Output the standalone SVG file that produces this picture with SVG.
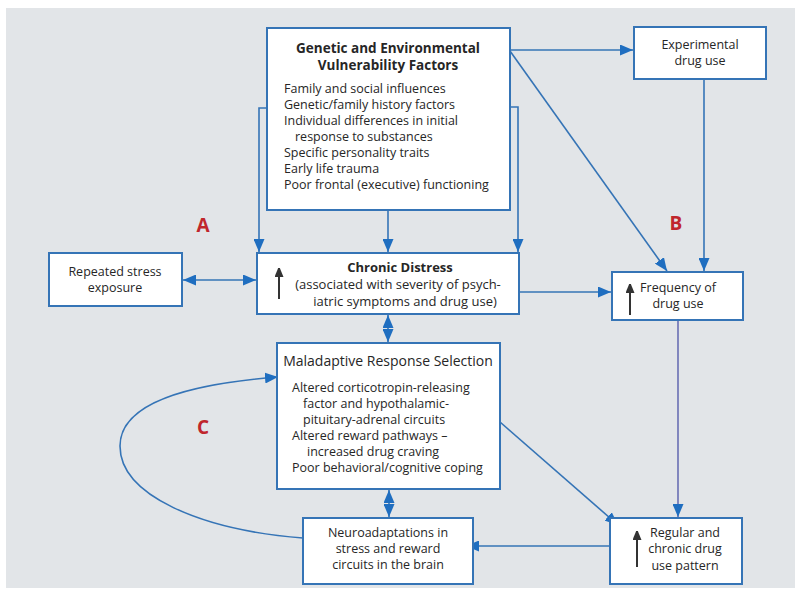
<svg xmlns="http://www.w3.org/2000/svg" width="795" height="596" viewBox="0 0 795 596">
  <style>
    .box { fill: #ffffff; stroke: #3574b6; stroke-width: 2; }
    .t { font-family: "Open Sans", "Liberation Sans", sans-serif; font-size: 12.5px; fill: #262626; }
    .big { font-size: 13.5px; }
    .mid { font-size: 13px; }
    .c { text-anchor: middle; }
    .b { font-weight: bold; }
    .lbl { font-family: "Open Sans", "Liberation Sans", sans-serif; font-size: 19px; font-weight: bold; fill: #c0262c; text-anchor: middle; }
    .edge { fill: none; stroke: #3574b6; stroke-width: 1.6; }
    .up { stroke: #333333; stroke-width: 2; fill: none; }
  </style>
  <defs>
    <marker id="ah" markerUnits="userSpaceOnUse" markerWidth="13" markerHeight="11" refX="13" refY="5.5" orient="auto-start-reverse" viewBox="0 0 13 11">
      <path d="M0,0 L13,5.5 L0,11 Z" fill="#1f6ec0"/>
    </marker>
    <marker id="uh" markerUnits="userSpaceOnUse" markerWidth="9" markerHeight="11" refX="9" refY="4.5" orient="auto" viewBox="0 0 9 11">
      <path d="M0,0 L11,4.5 L0,9 Z" fill="#333333"/>
    </marker>
  </defs>

  <!-- panel background -->
  <rect x="6" y="8" width="789" height="580" fill="#e2e5e8"/>

  <!-- connectors -->
  <g id="connectors">
    <path class="edge" d="M267,108 H259 V252" marker-end="url(#ah)"/>
    <path class="edge" d="M388,210 V252" marker-end="url(#ah)"/>
    <path class="edge" d="M510,107 H518 V252" marker-end="url(#ah)"/>
    <path class="edge" d="M510,50 H633" marker-end="url(#ah)"/>
    <path class="edge" d="M510,51 L667,271" marker-end="url(#ah)"/>
    <path class="edge" d="M704,79 V271" marker-end="url(#ah)"/>
    <path class="edge" d="M183,280 H256" marker-start="url(#ah)" marker-end="url(#ah)"/>
    <path class="edge" d="M519,292 H611" marker-end="url(#ah)"/>
    <path class="edge" d="M388,315 V342" marker-start="url(#ah)" marker-end="url(#ah)"/>
    <path class="edge" d="M389,490 V517" marker-start="url(#ah)" marker-end="url(#ah)"/>
    <path class="edge" style="stroke:#6a6fb3" d="M678,320 V517" marker-end="url(#ah)"/>
    <path class="edge" d="M500,422 L618,525" marker-end="url(#ah)"/>
    <path class="edge" d="M610,546 H466" marker-end="url(#ah)"/>
    <path class="edge" d="M303,538 C200,530 120,495 120,446 C120,402 190,384 278,377" marker-end="url(#ah)"/>
  </g>

  <!-- nodes -->
  <g id="vulnerability">
    <rect class="box" x="267" y="28" width="243" height="182"/>
    <text class="t big c b" x="388" y="53">Genetic and Environmental</text>
    <text class="t big c b" x="388" y="70">Vulnerability Factors</text>
    <text class="t" x="284" y="93">Family and social influences</text>
    <text class="t" x="284" y="109">Genetic/family history factors</text>
    <text class="t" x="284" y="125">Individual differences in initial</text>
    <text class="t" x="295" y="141">response to substances</text>
    <text class="t" x="284" y="157">Specific personality traits</text>
    <text class="t" x="284" y="173">Early life trauma</text>
    <text class="t" x="284" y="189">Poor frontal (executive) functioning</text>
  </g>

  <g id="experimental">
    <rect class="box" x="634" y="27" width="132" height="52"/>
    <text class="t c" x="700" y="49">Experimental</text>
    <text class="t c" x="700" y="65">drug use</text>
  </g>

  <g id="stress">
    <rect class="box" x="49" y="253" width="133" height="53"/>
    <text class="t c" x="115" y="276">Repeated stress</text>
    <text class="t c" x="115" y="292">exposure</text>
  </g>

  <g id="distress">
    <rect class="box" x="257" y="253" width="262" height="61"/>
    <path class="up" d="M279,299 V268" marker-end="url(#uh)"/>
    <text class="t mid c b" x="400" y="272">Chronic Distress</text>
    <text class="t mid c" x="398" y="289">(associated with severity of psych-</text>
    <text class="t mid c" x="405" y="306">iatric symptoms and drug use)</text>
  </g>

  <g id="frequency">
    <rect class="box" x="612" y="272" width="131" height="48"/>
    <path class="up" d="M630,315 V284" marker-end="url(#uh)"/>
    <text class="t c" x="678" y="292">Frequency of</text>
    <text class="t c" x="678" y="308">drug use</text>
  </g>

  <g id="maladaptive">
    <rect class="box" x="277" y="343" width="223" height="146"/>
    <text class="t c" x="388" y="366" style="font-size:14px">Maladaptive Response Selection</text>
    <text class="t" x="292" y="392">Altered corticotropin-releasing</text>
    <text class="t" x="303" y="408">factor and hypothalamic-</text>
    <text class="t" x="303" y="424">pituitary-adrenal circuits</text>
    <text class="t" x="292" y="440">Altered reward pathways –</text>
    <text class="t" x="307" y="456">increased drug craving</text>
    <text class="t" x="292" y="472">Poor behavioral/cognitive coping</text>
  </g>

  <g id="neuroadaptations">
    <rect class="box" x="303" y="518" width="170" height="66"/>
    <text class="t c" x="388" y="537">Neuroadaptations in</text>
    <text class="t c" x="388" y="553">stress and reward</text>
    <text class="t c" x="388" y="569">circuits in the brain</text>
  </g>

  <g id="regular">
    <rect class="box" x="610" y="518" width="132" height="66"/>
    <path class="up" d="M637,567 V531" marker-end="url(#uh)"/>
    <text class="t c" x="685" y="537">Regular and</text>
    <text class="t c" x="685" y="553">chronic drug</text>
    <text class="t c" x="685" y="570">use pattern</text>
  </g>

  <!-- pathway labels -->
  <g id="labels">
    <text class="lbl" x="203" y="232">A</text>
    <text class="lbl" x="676" y="230">B</text>
    <text class="lbl" x="203" y="434">C</text>
  </g>
</svg>
